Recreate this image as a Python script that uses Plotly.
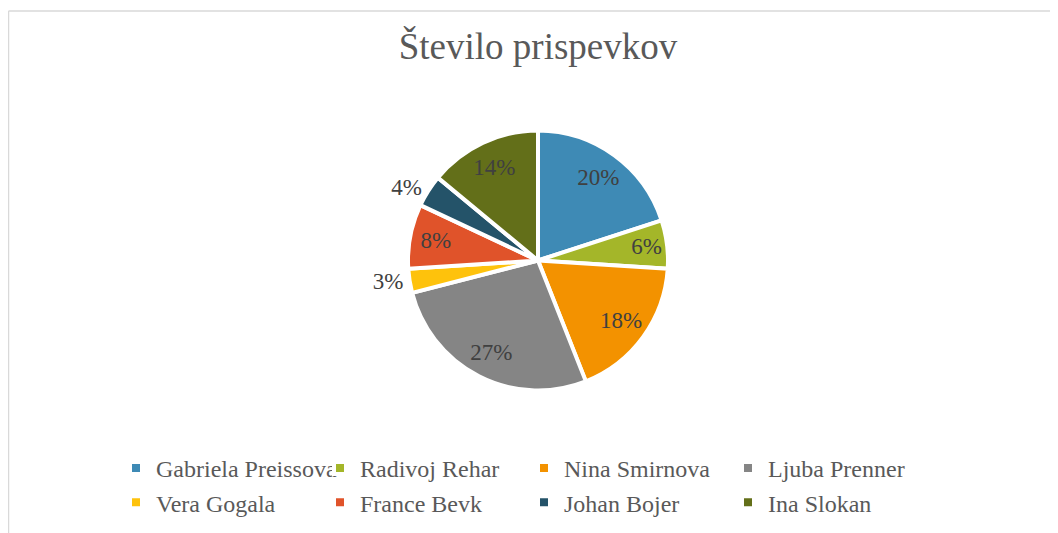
import plotly.graph_objects as go

names = ["Gabriela Preissova", "Radivoj Rehar", "Nina Smirnova", "Ljuba Prenner",
         "Vera Gogala", "France Bevk", "Johan Bojer", "Ina Slokan"]
values = [20, 6, 18, 27, 3, 8, 4, 14]
colors = ["#3E8AB5", "#A4B629", "#F39200", "#858585",
          "#FEC20C", "#E0532A", "#245369", "#636F19"]
text_pos = ["inside", "inside", "inside", "inside", "outside", "inside", "outside", "inside"]

# page has an 8px body margin; figure sized to fit the window
OFF = 8
W, H = 1050, 525
ML, MR = 110, 110
GW, GH = W - ML - MR, H


def xp(X):
    return (X - OFF - ML) / GW


def yp(Y):
    return 1 - (Y - OFF) / GH


cx, cy, r = 538, 260.5, 130
dom = dict(x=[xp(cx - r), xp(cx + r)], y=[yp(cy + r), yp(cy - r)])

fig = go.Figure()
# slices
fig.add_trace(go.Pie(
    labels=names, values=values, sort=False, direction="clockwise", rotation=0,
    marker=dict(colors=colors, line=dict(color="white", width=4)),
    textinfo="none", domain=dom, showlegend=True, hoverinfo="label+percent",
))
# percentage labels (transparent ring so labels sit toward the outer part of each slice)
fig.add_trace(go.Pie(
    labels=names, values=values, sort=False, direction="clockwise", rotation=0, hole=0.58,
    marker=dict(colors=["rgba(0,0,0,0)"] * len(values), line=dict(width=0)),
    textinfo="percent", textposition=text_pos, insidetextorientation="horizontal",
    textfont=dict(family="Liberation Serif", size=23, color="#404040"),
    domain=dom, showlegend=False, hoverinfo="skip",
))

fig.update_layout(
    width=W, height=H,
    margin=dict(l=ML, r=MR, t=0, b=0, autoexpand=False),
    paper_bgcolor="white", plot_bgcolor="white",
    title=dict(text="Število prispevkov", x=(538 - OFF) / W, xanchor="center", xref="container",
               y=1 - (46 - OFF) / H, yanchor="middle", yref="container",
               font=dict(family="Liberation Serif", size=37, color="#595959")),
    uniformtext=dict(minsize=23, mode="show"),
    legend=dict(orientation="h", x=xp(524), xanchor="center", y=yp(446), yanchor="top",
                font=dict(family="Liberation Serif", size=24, color="#595959"),
                entrywidth=159, entrywidthmode="pixels", traceorder="normal",
                bgcolor="rgba(0,0,0,0)"),
    shapes=[
        dict(type="line", xref="paper", yref="paper", x0=xp(8.5), x1=xp(8.5), y0=yp(540), y1=yp(11),
             line=dict(color="#D9D9D9", width=1.5)),
        dict(type="line", xref="paper", yref="paper", x0=xp(8.5), x1=xp(1070), y0=yp(11), y1=yp(11),
             line=dict(color="#D9D9D9", width=1.5)),
    ],
)

fig.write_html("out.html")
